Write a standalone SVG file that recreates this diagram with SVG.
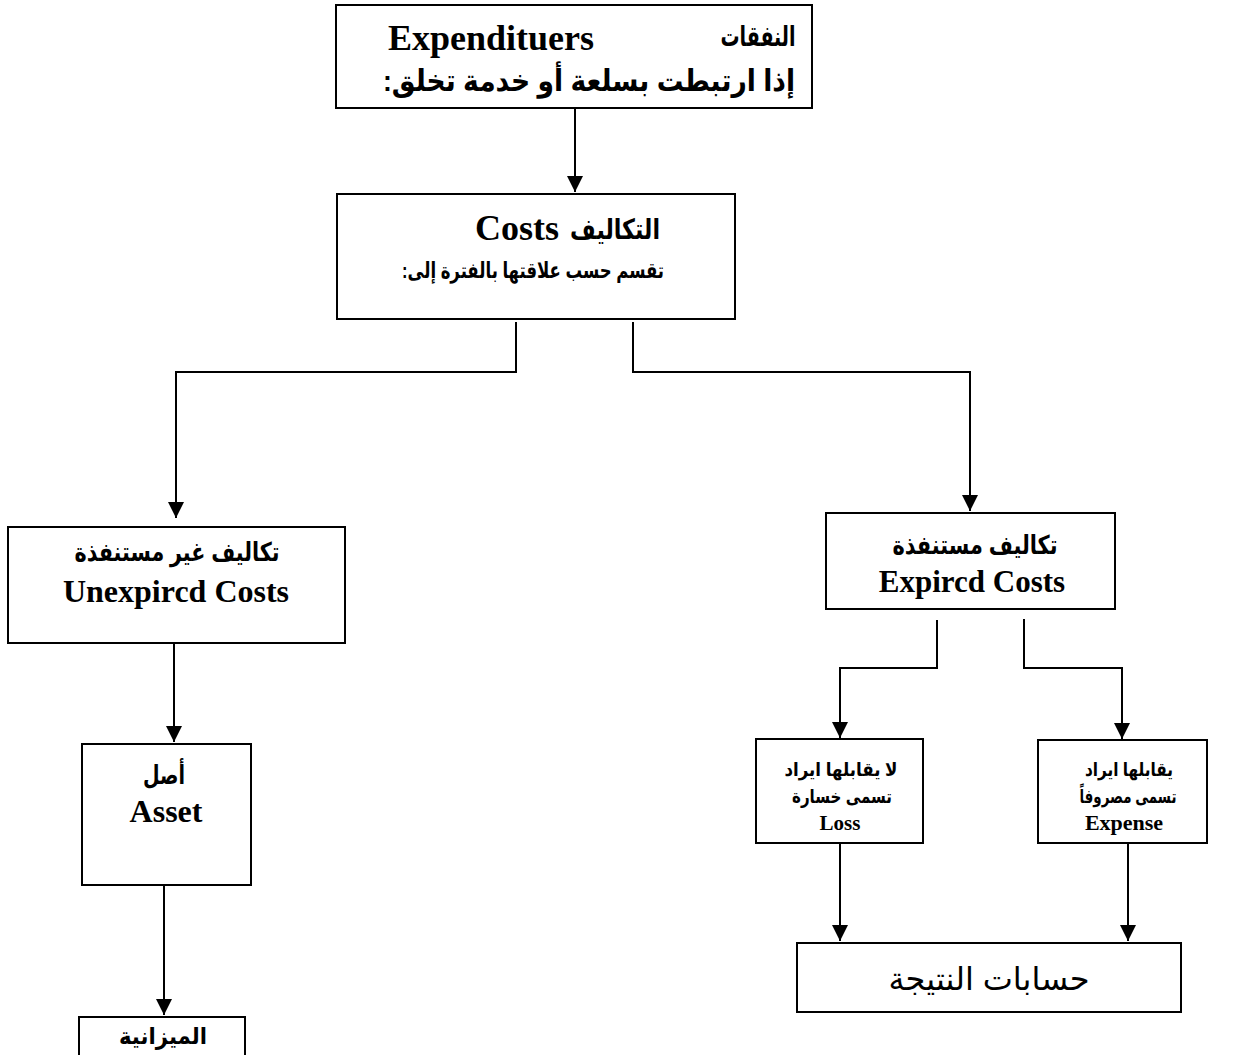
<svg xmlns="http://www.w3.org/2000/svg" width="1236" height="1055" viewBox="0 0 1236 1055">
<defs>
<marker id="arr" markerUnits="userSpaceOnUse" markerWidth="16" markerHeight="16" viewBox="0 0 16 16" refX="16" refY="8" orient="auto">
<path d="M0,0 L16,8 L0,16 z" fill="#000"/>
</marker>
<style>
.box{fill:#fff;stroke:#000;stroke-width:2}
.ln{fill:none;stroke:#000;stroke-width:2}
.ar{font-family:"Liberation Sans","DejaVu Sans",sans-serif;font-weight:bold;fill:#000;text-anchor:middle;direction:rtl}
.en{font-family:"Liberation Serif","DejaVu Serif",serif;font-weight:bold;fill:#000;text-anchor:middle}
</style>
</defs>
<rect width="1236" height="1055" fill="#fff"/>
<g id="connectors">
<path class="ln" d="M575,108 V192" marker-end="url(#arr)"/>
<path class="ln" d="M516,322 V372 H176 V518" marker-end="url(#arr)"/>
<path class="ln" d="M633,322 V372 H970 V511" marker-end="url(#arr)"/>
<path class="ln" d="M174,643 V742" marker-end="url(#arr)"/>
<path class="ln" d="M164,885 V1015" marker-end="url(#arr)"/>
<path class="ln" d="M937,620 V668 H840 V738" marker-end="url(#arr)"/>
<path class="ln" d="M1024,619 V668 H1122 V739" marker-end="url(#arr)"/>
<path class="ln" d="M840,843 V941" marker-end="url(#arr)"/>
<path class="ln" d="M1128,843 V941" marker-end="url(#arr)"/>
</g>
<g id="n-expenditures">
<rect class="box" x="336" y="5" width="476" height="103"/>
<text class="en" x="491" y="50" font-size="36">Expendituers</text>
<text class="ar" x="758" y="46" font-size="28" textLength="75" lengthAdjust="spacingAndGlyphs">النفقات</text>
<text class="ar" x="589" y="91" font-size="30" textLength="412" lengthAdjust="spacingAndGlyphs">إذا ارتبطت بسلعة أو خدمة تخلق:</text>
</g>
<g id="n-costs">
<rect class="box" x="337" y="194" width="398" height="125"/>
<text class="en" x="517" y="240" font-size="36">Costs</text>
<text class="ar" x="615" y="239" font-size="28" textLength="90" lengthAdjust="spacingAndGlyphs">التكاليف</text>
<text class="ar" x="533" y="278" font-size="22" textLength="262" lengthAdjust="spacingAndGlyphs">تقسم حسب علاقتها بالفترة إلى:</text>
</g>
<g id="n-unexpired">
<rect class="box" x="8" y="527" width="337" height="116"/>
<text class="ar" x="177" y="561" font-size="26" textLength="205" lengthAdjust="spacingAndGlyphs">تكاليف غير مستنفذة</text>
<text class="en" x="176" y="602" font-size="32">Unexpircd Costs</text>
</g>
<g id="n-expired">
<rect class="box" x="826" y="513" width="289" height="96"/>
<text class="ar" x="975" y="554" font-size="26" textLength="165" lengthAdjust="spacingAndGlyphs">تكاليف مستنفذة</text>
<text class="en" x="972" y="592" font-size="31">Expircd Costs</text>
</g>
<g id="n-asset">
<rect class="box" x="82" y="744" width="169" height="141"/>
<text class="ar" x="164" y="784" font-size="26" textLength="42" lengthAdjust="spacingAndGlyphs">أصل</text>
<text class="en" x="166" y="822" font-size="32">Asset</text>
</g>
<g id="n-budget">
<rect class="box" x="79" y="1017" width="166" height="50"/>
<text class="ar" x="163" y="1044" font-size="23" textLength="88" lengthAdjust="spacingAndGlyphs">الميزانية</text>
</g>
<g id="n-loss">
<rect class="box" x="756" y="739" width="167" height="104"/>
<text class="ar" x="841" y="776" font-size="19" textLength="113" lengthAdjust="spacingAndGlyphs">لا يقابلها ايراد</text>
<text class="ar" x="842" y="803" font-size="19" textLength="100" lengthAdjust="spacingAndGlyphs">تسمى خسارة</text>
<text class="en" x="840" y="830" font-size="21">Loss</text>
</g>
<g id="n-expense">
<rect class="box" x="1038" y="740" width="169" height="103"/>
<text class="ar" x="1129" y="776" font-size="19" textLength="88" lengthAdjust="spacingAndGlyphs">يقابلها ايراد</text>
<text class="ar" x="1128" y="803" font-size="19" textLength="97" lengthAdjust="spacingAndGlyphs">تسمى مصروفاً</text>
<text class="en" x="1124" y="830" font-size="22">Expense</text>
</g>
<g id="n-results">
<rect class="box" x="797" y="943" width="384" height="69"/>
<text x="989" y="990" font-size="32" font-family="Liberation Sans, DejaVu Sans, sans-serif" text-anchor="middle" direction="rtl" fill="#000">حسابات النتيجة</text>
</g>
</svg>
